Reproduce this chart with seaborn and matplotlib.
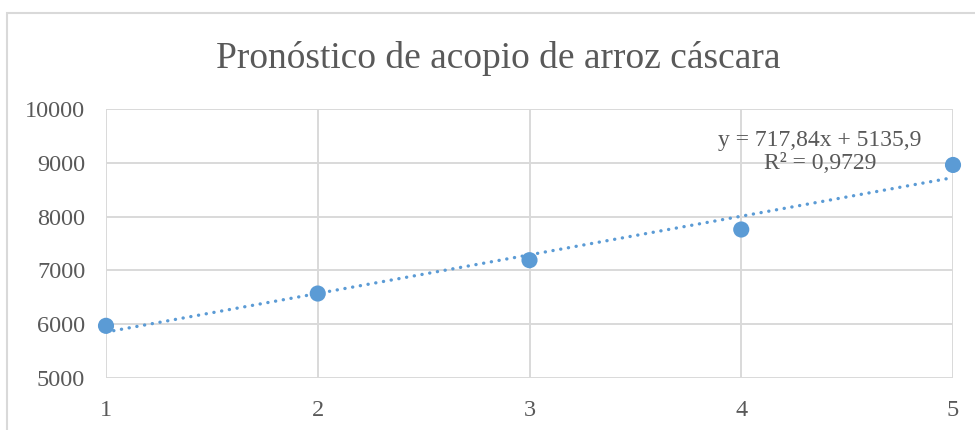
import numpy as np
import pandas as pd
import matplotlib
matplotlib.use("Agg")
import matplotlib.pyplot as plt
from matplotlib.patches import Rectangle
import seaborn as sns

# Periods and rice collection volumes
periodos = [1, 2, 3, 4, 5]
acopio = [5970, 6570, 7190, 7760, 8960]

# Linear trend coefficients shown on the chart
pendiente = 717.84
intercepto = 5135.9
r2 = 0.9729

titulo = "Pronóstico de acopio de arroz cáscara"
y_ticks = [5000, 6000, 7000, 8000, 9000, 10000]
x_ticks = [1, 2, 3, 4, 5]

AZUL = "#5b9bd5"
GRIS_TEXTO = "#595959"
GRIS_REJILLA = "#d9d9d9"

sns.set_theme(style="white")
plt.rcParams["font.family"] = ["Liberation Serif", "DejaVu Serif"]

fig = plt.figure(figsize=(9.75, 4.3), dpi=100)
W, H = 975, 430

# Chart area frame
fig.patches.append(Rectangle((7 / W, -0.1), 2.0, 1 - 13 / H + 0.1,
                             transform=fig.transFigure, fill=False,
                             edgecolor=GRIS_REJILLA, linewidth=1.5))

ax = fig.add_axes([106 / W, 1 - 378 / H, (953 - 106) / W, (378 - 109) / H])

df = pd.DataFrame({"periodo": periodos, "acopio": acopio})
tendencia = pd.DataFrame({
    "periodo": periodos,
    "ajuste": [pendiente * p + intercepto for p in periodos],
})

sns.lineplot(data=tendencia, x="periodo", y="ajuste", ax=ax, color=AZUL,
             linewidth=2.4, linestyle=(0, (0.05, 2.3)),
             dash_capstyle="round", zorder=3)
sns.scatterplot(data=df, x="periodo", y="acopio", ax=ax, color=AZUL,
                s=135, edgecolor="none", zorder=4, clip_on=False)

ax.set_xlim(1, 5)
ax.set_ylim(5000, 10000)
ax.set_xticks(x_ticks)
ax.set_yticks(y_ticks)
ax.set_xticklabels([str(t) for t in x_ticks])
ax.set_yticklabels([str(t) for t in y_ticks])
ax.grid(True, color=GRIS_REJILLA, linewidth=1.4)
ax.set_axisbelow(True)
for s in ax.spines.values():
    s.set_visible(False)
ax.tick_params(axis="both", length=0, labelsize=17.5, colors=GRIS_TEXTO)
ax.tick_params(axis="y", pad=15)
ax.tick_params(axis="x", pad=16)
ax.set_xlabel("")
ax.set_ylabel("")

fig.text(498 / W, 1 - 58 / H, titulo, ha="center", va="center",
         fontsize=27, color=GRIS_TEXTO)

ax.text(820 / W, 1 - 152 / H,
        f"y = {pendiente:.2f}x + {intercepto:.1f}".replace(".", ",")
        + "\n" + f"R² = {r2:.4f}".replace(".", ","),
        transform=fig.transFigure, ha="center", va="center",
        fontsize=17, color=GRIS_TEXTO, linespacing=1.18)

fig.savefig("out.png", dpi=100)
